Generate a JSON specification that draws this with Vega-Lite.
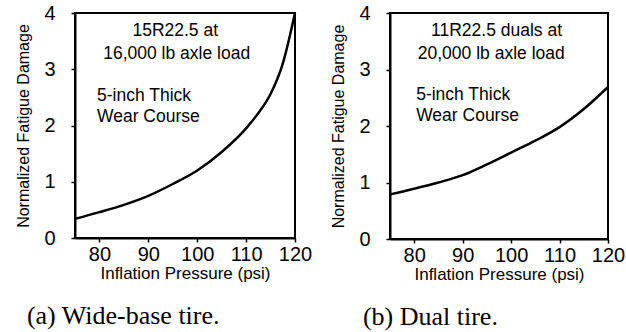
{
  "$schema": "https://vega.github.io/schema/vega-lite/v6.json",
  "padding": {"left": 14, "top": 2, "right": 4, "bottom": 0},
  "spacing": 16,
  "config": {
    "font": "Liberation Sans",
    "view": {"stroke": "black", "strokeWidth": 2},
    "axis": {
      "domainColor": "black", "domainWidth": 2, "tickColor": "black", "tickWidth": 1.5,
      "tickSize": 4, "labelColor": "black", "titleColor": "black", "labelFont": "Liberation Sans",
      "titleFont": "Liberation Sans", "grid": false, "labelFontSize": 20, "titleFontSize": 17,
      "titleFontWeight": "normal", "labelOverlap": false, "labelFlush": false
    },
    "title": {"font": "Liberation Serif", "fontSize": 26, "fontWeight": "normal", "color": "black", "orient": "bottom", "anchor": "start", "offset": 22}
  },
  "datasets": {
    "wide": [
      {"p": 75, "d": 0.34}, {"p": 80, "d": 0.46}, {"p": 85, "d": 0.59}, {"p": 90, "d": 0.75},
      {"p": 95, "d": 0.96}, {"p": 100, "d": 1.2}, {"p": 105, "d": 1.53}, {"p": 110, "d": 1.95},
      {"p": 112.5, "d": 2.22}, {"p": 115, "d": 2.56}, {"p": 117.5, "d": 3.1}, {"p": 120, "d": 4.0}
    ],
    "dual": [
      {"p": 75, "d": 0.79}, {"p": 80, "d": 0.89}, {"p": 85, "d": 1.0}, {"p": 90, "d": 1.13},
      {"p": 95, "d": 1.32}, {"p": 100, "d": 1.53}, {"p": 105, "d": 1.74}, {"p": 110, "d": 1.98},
      {"p": 115, "d": 2.3}, {"p": 120, "d": 2.69}
    ],
    "wideText": [
      {"p": 95.5, "d": 3.68, "t": "15R22.5 at"},
      {"p": 95.8, "d": 3.27, "t": "16,000 lb axle load"}
    ],
    "wideText2": [
      {"p": 79.5, "d": 2.52, "t": "5-inch Thick"},
      {"p": 79.5, "d": 2.15, "t": "Wear Course"}
    ],
    "dualText": [
      {"p": 97.0, "d": 3.68, "t": "11R22.5 duals at"},
      {"p": 95.9, "d": 3.28, "t": "20,000 lb axle load"}
    ],
    "dualText2": [
      {"p": 80.4, "d": 2.55, "t": "5-inch Thick"},
      {"p": 80.4, "d": 2.18, "t": "Wear Course"}
    ]
  },
  "hconcat": [
    {
      "width": 220, "height": 225,
      "title": {"text": "(a) Wide-base tire.", "dx": 11},
      "layer": [
        {
          "data": {"name": "wide"},
          "mark": {"type": "line", "color": "black", "strokeWidth": 2.5, "interpolate": "monotone"},
          "encoding": {
            "x": {"field": "p", "type": "quantitative", "scale": {"domain": [75, 120], "nice": false},
              "axis": {"title": "Inflation Pressure (psi)", "values": [80, 90, 100, 110, 120], "labelFlush": false, "labelPadding": 2, "titlePadding": 1}},
            "y": {"field": "d", "type": "quantitative", "scale": {"domain": [0, 4], "nice": false},
              "axis": {"title": "Normalized Fatigue Damage", "values": [0, 0.5, 1, 1.5, 2, 2.5, 3, 3.5, 4], "labelOverlap": false,
                "labelExpr": "datum.value % 1 == 0 ? format(datum.value, 'd') : ''", "labelPadding": 16, "titlePadding": 12, "titleFontSize": 16}}
          }
        },
        {
          "data": {"name": "wideText"},
          "mark": {"type": "text", "fontSize": 17.5, "align": "center", "color": "black"},
          "encoding": {"x": {"field": "p", "type": "quantitative"}, "y": {"field": "d", "type": "quantitative"}, "text": {"field": "t"}}
        },
        {
          "data": {"name": "wideText2"},
          "mark": {"type": "text", "fontSize": 17.5, "align": "left", "color": "black"},
          "encoding": {"x": {"field": "p", "type": "quantitative"}, "y": {"field": "d", "type": "quantitative"}, "text": {"field": "t"}}
        }
      ]
    },
    {
      "width": 218, "height": 226,
      "title": {"text": "(b) Dual tire.", "dx": 32},
      "layer": [
        {
          "data": {"name": "dual"},
          "mark": {"type": "line", "color": "black", "strokeWidth": 2.5, "interpolate": "monotone"},
          "encoding": {
            "x": {"field": "p", "type": "quantitative", "scale": {"domain": [75, 120], "nice": false},
              "axis": {"title": "Inflation Pressure (psi)", "values": [80, 90, 100, 110, 120], "labelFlush": false, "labelPadding": 2, "titlePadding": 1}},
            "y": {"field": "d", "type": "quantitative", "scale": {"domain": [0, 4], "nice": false},
              "axis": {"title": "Normalized Fatigue Damage", "values": [0, 0.5, 1, 1.5, 2, 2.5, 3, 3.5, 4], "labelOverlap": false,
                "labelExpr": "datum.value % 1 == 0 ? format(datum.value, 'd') : ''", "labelPadding": 16, "titlePadding": 12, "titleFontSize": 16}}
          }
        },
        {
          "data": {"name": "dualText"},
          "mark": {"type": "text", "fontSize": 17.5, "align": "center", "color": "black"},
          "encoding": {"x": {"field": "p", "type": "quantitative"}, "y": {"field": "d", "type": "quantitative"}, "text": {"field": "t"}}
        },
        {
          "data": {"name": "dualText2"},
          "mark": {"type": "text", "fontSize": 17.5, "align": "left", "color": "black"},
          "encoding": {"x": {"field": "p", "type": "quantitative"}, "y": {"field": "d", "type": "quantitative"}, "text": {"field": "t"}}
        }
      ]
    }
  ]
}
